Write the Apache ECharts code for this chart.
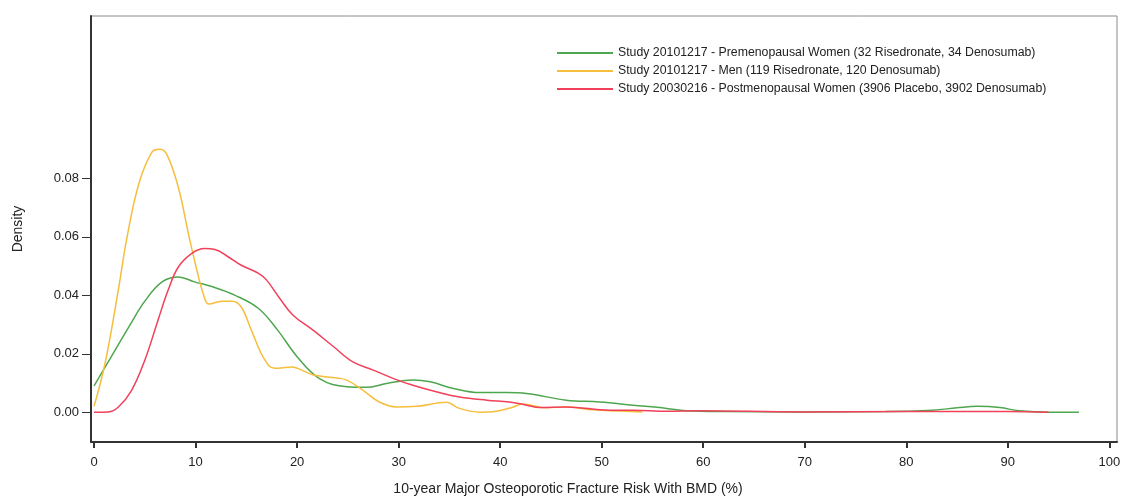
<!DOCTYPE html>
<html>
<head>
<meta charset="utf-8">
<script src="https://cdn.jsdelivr.net/npm/echarts@6/dist/echarts.min.js"></script>
<style>
	html, body { margin: 0; padding: 0; background: #fff; }
	#chartDiv { width: 1123px; height: 497px; }
</style>
</head>
<body>
<div id="chartDiv"></div>
<script>
// legend names
const seriesNames = [
	'Study 20101217 - Premenopausal Women (32 Risedronate, 34 Denosumab)',
	'Study 20101217 - Men (119 Risedronate, 120 Denosumab)',
	'Study 20030216 - Postmenopausal Women (3906 Placebo, 3902 Denosumab)'
];

// premenopausal women (green)
const preX = [0, 1.7, 3.4, 5.0, 6.7, 8.3, 9.9, 11.6, 13.9, 16.2, 18.1, 20.0, 22.2, 24.9, 26.8, 28.8, 31.4, 33.1, 35.4, 38.0, 40.6, 42.6, 46.5, 49.8, 53.1, 56.4, 58.3, 62, 70, 78, 82.6, 85, 87, 89.2, 91.1, 94.1, 97];
const preY = [0.009, 0.019, 0.029, 0.038, 0.0446, 0.0463, 0.0446, 0.043, 0.040, 0.0355, 0.028, 0.019, 0.0115, 0.0087, 0.0085, 0.0098, 0.011, 0.0104, 0.0081, 0.0067, 0.0067, 0.0064, 0.0041, 0.0035, 0.0024, 0.0013, 0.0005, 0.0002, 0.0001, 0.0002, 0.0007, 0.0015, 0.002, 0.0016, 0.0005, 0.0, 0.0];

// men (orange)
const menX = [0, 1.1, 2.4, 3.2, 4.4, 5.7, 6.5, 7.2, 8.3, 9.3, 10.1, 10.8, 11.3, 12.6, 13.6, 14.5, 15.5, 16.8, 17.8, 19.5, 20.4, 21.6, 23.9, 24.9, 26.5, 28.1, 29.8, 31.8, 34.7, 36.0, 38.0, 39.6, 41.3, 42.2, 44.6, 46.5, 49.1, 51.5, 54.0];
const menY = [0.002, 0.017, 0.042, 0.059, 0.078, 0.089, 0.090, 0.088, 0.077, 0.061, 0.049, 0.040, 0.037, 0.038, 0.038, 0.036, 0.028, 0.018, 0.015, 0.0155, 0.0145, 0.0127, 0.0117, 0.011, 0.0075, 0.0035, 0.0018, 0.002, 0.0034, 0.0013, 0.0, 0.0003, 0.0018, 0.0028, 0.0015, 0.0018, 0.0008, 0.0004, 0.0001];

// postmenopausal women (red)
const postX = [0, 1.4, 2.4, 3.7, 5.0, 6.3, 7.3, 8.3, 9.6, 10.9, 11.9, 13.2, 14.5, 16.2, 17.0, 18.3, 19.6, 21.6, 23.6, 25.5, 27.5, 29.5, 31.4, 33.7, 36.0, 38.7, 40.9, 42.6, 43.9, 46.5, 50.8, 53.1, 56.4, 59.7, 69.5, 80, 90, 94];
const postY = [0.0, 0.0001, 0.0018, 0.0075, 0.0178, 0.0315, 0.0418, 0.0497, 0.0543, 0.056, 0.0557, 0.0532, 0.0503, 0.0475, 0.0452, 0.0389, 0.0332, 0.028, 0.0224, 0.0172, 0.0144, 0.0115, 0.0092, 0.007, 0.0052, 0.0041, 0.0035, 0.0024, 0.0016, 0.0018, 0.0007, 0.0007, 0.0003, 0.0005, 0.0001, 0.0002, 0.0002, 0.0];

// tick labels
const xTicks = [0, 10, 20, 30, 40, 50, 60, 70, 80, 90, 100];
const yTicks = [0, 0.02, 0.04, 0.06, 0.08];

const colors = ['#4ea64e', '#f5be3c', '#f0405a'];
const fontName = 'Liberation Sans';

const pairs = (xs, ys) => xs.map((x, i) => [x, ys[i]]);

chartInit = () => {
	let chart = echarts.init(document.getElementById('chartDiv'));
	let lineSeries = (name, data, color) => ({
		name: name,
		type: 'line',
		smooth: 0.4,
		showSymbol: false,
		lineStyle: { color: color, width: 1.5 },
		itemStyle: { color: color },
		data: data
	});
	let option = {
		animation: false,
		backgroundColor: '#fff',
		grid: {
			left: 91,
			right: 6,
			top: 16,
			bottom: 55,
			outerBoundsMode: 'none',
			containLabel: false,
			show: true,
			borderColor: '#8a8a8a',
			borderWidth: 1
		},
		legend: {
			orient: 'vertical',
			left: 557,
			top: 46,
			padding: 0,
			icon: 'rect',
			itemWidth: 56,
			itemHeight: 2,
			itemGap: 4,
			textStyle: {
				fontFamily: fontName,
				fontSize: 12.3,
				color: '#222',
				lineHeight: 14
			},
			data: seriesNames
		},
		xAxis: {
			type: 'value',
			min: -0.3,
			max: 100.75,
			name: '10-year Major Osteoporotic Fracture Risk With BMD (%)',
			nameLocation: 'middle',
			nameGap: 40,
			nameTextStyle: {
				fontFamily: fontName,
				fontSize: 14,
				color: '#222',
				padding: [0, 72, 0, 0]
			},
			axisLine: { show: true, onZero: false, lineStyle: { color: '#333', width: 2 } },
			axisTick: { show: true, length: 6, customValues: xTicks, lineStyle: { color: '#333', width: 2 } },
			axisLabel: {
				customValues: xTicks,
				margin: 14,
				fontFamily: fontName,
				fontSize: 13,
				color: '#222'
			},
			splitLine: { show: false }
		},
		yAxis: {
			type: 'value',
			min: -0.0102,
			max: 0.1356,
			name: 'Density',
			nameLocation: 'middle',
			nameGap: 66,
			nameTextStyle: {
				fontFamily: fontName,
				fontSize: 14,
				color: '#222'
			},
			axisLine: { show: true, onZero: false, lineStyle: { color: '#333', width: 2 } },
			axisTick: { show: true, length: 9, customValues: yTicks, lineStyle: { color: '#333', width: 1 } },
			axisLabel: {
				customValues: yTicks,
				margin: 12,
				fontFamily: fontName,
				fontSize: 13,
				color: '#222',
				formatter: (v) => v.toFixed(2)
			},
			splitLine: { show: false }
		},
		series: [
			lineSeries(seriesNames[0], pairs(preX, preY), colors[0]),
			lineSeries(seriesNames[1], pairs(menX, menY), colors[1]),
			lineSeries(seriesNames[2], pairs(postX, postY), colors[2])
		]
	};
	chart.setOption(option);
};
chartInit();
</script>
</body>
</html>
